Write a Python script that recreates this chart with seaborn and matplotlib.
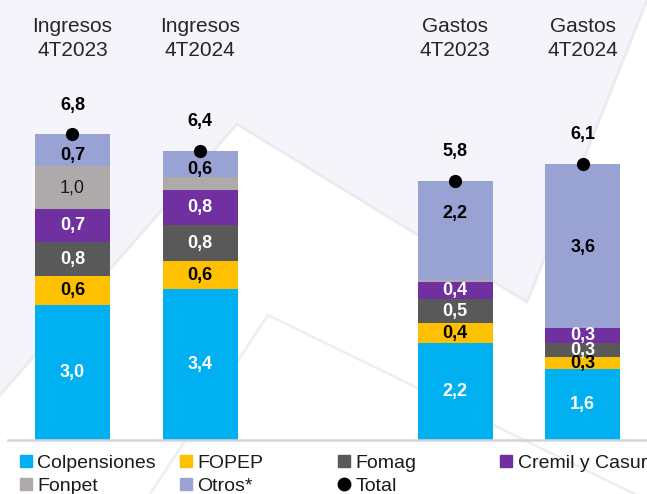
import numpy as np
import pandas as pd
import matplotlib
matplotlib.use("Agg")
import matplotlib.pyplot as plt
import seaborn as sns
from matplotlib.patches import Polygon
from matplotlib.lines import Line2D

# ---------------- data ----------------
categories = ["Ingresos\n4T2023", "Ingresos\n4T2024", "Gastos\n4T2023", "Gastos\n4T2024"]
series = ["Colpensiones", "FOPEP", "Fomag", "Cremil y Casur", "Fonpet", "Otros*"]
colpensiones = [3.00, 3.36, 2.16, 1.57]
fopep = [0.64, 0.61, 0.43, 0.27]
fomag = [0.76, 0.81, 0.54, 0.32]
cremil_casur = [0.73, 0.77, 0.39, 0.33]
fonpet = [0.96, 0.30, 0.04, 0.00]
otros = [0.70, 0.58, 2.20, 3.64]

values = [colpensiones, fopep, fomag, cremil_casur, fonpet, otros]
colors = ["#00B0F0", "#FFC000", "#595959", "#7030A0", "#AEAAAA", "#98A2D3"]
label_color = ["white", "black", "white", "white", "#1a1a1a", "black"]
label_weight = ["bold", "bold", "bold", "bold", "normal", "bold"]
min_label = [0.25, 0.25, 0.25, 0.25, 0.5, 0.25]
# small vertical nudges (in points) of the "Otros*" labels, as placed in the original
otros_nudge = [-3.5, -4.5, 12, -1]

# ---------------- style ----------------
sns.set_theme(style="white")
plt.rcParams["font.family"] = ["Liberation Sans", "DejaVu Sans"]

W, H = 647, 494
fig = plt.figure(figsize=(W / 100, H / 100), dpi=100)
fig.patch.set_facecolor("white")


def fp(pts):
    return [(x / W, 1 - y / H) for x, y in pts]


# decorative background
fig.patches.append(Polygon(fp([(0, 0), (W, 0), (527, 302), (237, 124), (0, 395)]),
                           closed=True, transform=fig.transFigure,
                           facecolor="#F4F4FA", edgecolor="none", zorder=-3))
fig.lines.append(Line2D([0, 237 / W, 527 / W, 1], [1 - 395 / H, 1 - 124 / H, 1 - 302 / H, 1],
                        transform=fig.transFigure, color="#EAEAEF", lw=2.0, zorder=-2))
fig.lines.append(Line2D([150 / W, 268 / W, 1], [0, 1 - 315 / H, 1 - 500 / H],
                        transform=fig.transFigure, color="#EEEEF1", lw=1.8, zorder=-2))

ax_left, ax_right = 8, 647
y_top_px, y_base_px = 70, 440
ppu = 45.0
ax = fig.add_axes([ax_left / W, 1 - y_base_px / H, (ax_right - ax_left) / W,
                   (y_base_px - y_top_px) / H])
ax.set_facecolor("none")
ax.set_zorder(1)

order = categories[:2] + [" "] + categories[2:]
pos = [order.index(c) for c in categories]

cum = np.zeros(len(categories))
bounds = []
for vals in values:
    b = cum.copy()
    cum = cum + np.array(vals)
    bounds.append((b, cum.copy()))
totals = cum

bar_w = 0.588
for i in reversed(range(len(series))):
    df = pd.DataFrame({"cat": categories, "top": bounds[i][1]})
    sns.barplot(data=df, x="cat", y="top", order=order, color=colors[i], width=bar_w,
                saturation=1, errorbar=None, ax=ax, zorder=2, linewidth=0)

dft = pd.DataFrame({"cat": categories, "total": totals})
sns.stripplot(data=dft, x="cat", y="total", order=order, jitter=False, color="black",
              size=9.5, ax=ax, zorder=5, linewidth=0)

# segment labels
for i, name in enumerate(series):
    b, t = bounds[i]
    for j, p in enumerate(pos):
        v = values[i][j]
        if v >= min_label[i]:
            dy = otros_nudge[j] if name == "Otros*" else 0
            ax.annotate(f"{v:.1f}".replace(".", ","), (p, (b[j] + t[j]) / 2),
                        xytext=(0, dy), textcoords="offset points", ha="center",
                        va="center", color=label_color[i], fontsize=13,
                        fontweight=label_weight[i], zorder=6)

# total labels
for j, p in enumerate(pos):
    ax.annotate(f"{totals[j]:.1f}".replace(".", ","), (p, totals[j]), xytext=(0, 21),
                textcoords="offset points", ha="center", va="center", fontsize=13,
                fontweight="bold", color="black", zorder=6)

xmin = -0.505
ax.set_xlim(xmin, xmin + (ax_right - ax_left) / 127.6)
ax.set_ylim(0, (y_base_px - y_top_px) / ppu)
ax.set_xlabel("")
ax.set_ylabel("")
ax.set_yticks([])
ax.xaxis.tick_top()
ax.set_xticks(range(len(order)))
ax.set_xticklabels(order, fontsize=15, color="#262626", linespacing=1.38)
ax.tick_params(axis="x", length=0, pad=7)
for s in ["top", "left", "right"]:
    ax.spines[s].set_visible(False)
ax.spines["bottom"].set_color("#D4D4D8")
ax.spines["bottom"].set_linewidth(1.8)

# legend (rows: Colpensiones FOPEP Fomag Cremil / Fonpet Otros Total)
def sq(c):
    return Line2D([], [], marker="s", linestyle="none", markersize=8.8,
                  markerfacecolor=c, markeredgecolor=c)

cols = [
    ([sq(colors[0]), sq(colors[4])], [series[0], series[4]], 20),
    ([sq(colors[1]), sq(colors[5])], [series[1], series[5]], 180),
    ([sq(colors[2]), Line2D([], [], marker="o", linestyle="none", markersize=9,
                            markerfacecolor="black", markeredgecolor="black")],
     [series[2], "Total"], 338),
    ([sq(colors[3])], [series[3]], 500),
]
for handles, labels, xpx in cols:
    fig.legend(handles, labels, loc="upper left", bbox_to_anchor=(xpx / W, 1 - 454 / H),
               bbox_transform=fig.transFigure, frameon=False, fontsize=14,
               borderpad=0, borderaxespad=0, handlelength=0.65, handletextpad=0.25,
               labelspacing=0.3, labelcolor="#1a1a1a")

fig.savefig("out.png", dpi=100, facecolor=fig.get_facecolor())
